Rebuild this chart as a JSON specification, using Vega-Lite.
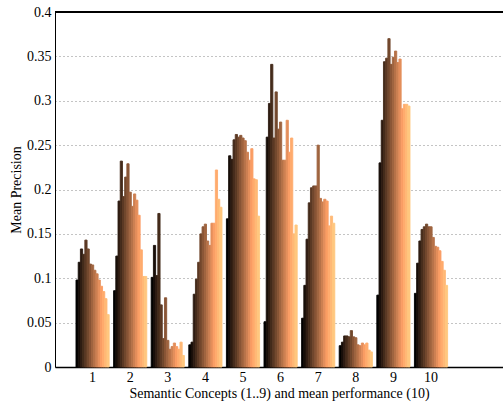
{
  "$schema": "https://vega.github.io/schema/vega-lite/v6.json",
  "width": 448,
  "height": 355,
  "autosize": {"type": "none"},
  "padding": {"left": 55, "top": 12, "right": 0, "bottom": 40},
  "config": {
    "view": {"stroke": null},
    "font": "Liberation Serif",
    "axis": {"labelFont": "Liberation Serif", "titleFont": "Liberation Serif", "labelColor": "#000", "titleColor": "#000", "titleFontWeight": "normal", "labelFontSize": 14, "titleFontSize": 14}
  },
  "data": {
    "values": [
      {"c":1,"s":1,"v":0.098},{"c":1,"s":2,"v":0.118},{"c":1,"s":3,"v":0.133},{"c":1,"s":4,"v":0.127},{"c":1,"s":5,"v":0.143},{"c":1,"s":6,"v":0.133},{"c":1,"s":7,"v":0.116},{"c":1,"s":8,"v":0.115},{"c":1,"s":9,"v":0.109},{"c":1,"s":10,"v":0.105},{"c":1,"s":11,"v":0.098},{"c":1,"s":12,"v":0.091},{"c":1,"s":13,"v":0.085},{"c":1,"s":14,"v":0.077},{"c":1,"s":15,"v":0.059},
      {"c":2,"s":1,"v":0.086},{"c":2,"s":2,"v":0.125},{"c":2,"s":3,"v":0.187},{"c":2,"s":4,"v":0.232},{"c":2,"s":5,"v":0.192},{"c":2,"s":6,"v":0.214},{"c":2,"s":7,"v":0.229},{"c":2,"s":8,"v":0.197},{"c":2,"s":9,"v":0.181},{"c":2,"s":10,"v":0.195},{"c":2,"s":11,"v":0.188},{"c":2,"s":12,"v":0.171},{"c":2,"s":13,"v":0.132},{"c":2,"s":14,"v":0.102},{"c":2,"s":15,"v":0.102},
      {"c":3,"s":1,"v":0.101},{"c":3,"s":2,"v":0.137},{"c":3,"s":3,"v":0.103},{"c":3,"s":4,"v":0.173},{"c":3,"s":5,"v":0.070},{"c":3,"s":6,"v":0.032},{"c":3,"s":7,"v":0.078},{"c":3,"s":8,"v":0.030},{"c":3,"s":9,"v":0.020},{"c":3,"s":10,"v":0.023},{"c":3,"s":11,"v":0.027},{"c":3,"s":12,"v":0.023},{"c":3,"s":13,"v":0.020},{"c":3,"s":14,"v":0.028},{"c":3,"s":15,"v":0.013},
      {"c":4,"s":1,"v":0.025},{"c":4,"s":2,"v":0.028},{"c":4,"s":3,"v":0.082},{"c":4,"s":4,"v":0.099},{"c":4,"s":5,"v":0.118},{"c":4,"s":6,"v":0.150},{"c":4,"s":7,"v":0.158},{"c":4,"s":8,"v":0.161},{"c":4,"s":9,"v":0.142},{"c":4,"s":10,"v":0.137},{"c":4,"s":11,"v":0.162},{"c":4,"s":12,"v":0.162},{"c":4,"s":13,"v":0.222},{"c":4,"s":14,"v":0.189},{"c":4,"s":15,"v":0.180},
      {"c":5,"s":1,"v":0.167},{"c":5,"s":2,"v":0.238},{"c":5,"s":3,"v":0.234},{"c":5,"s":4,"v":0.256},{"c":5,"s":5,"v":0.262},{"c":5,"s":6,"v":0.259},{"c":5,"s":7,"v":0.261},{"c":5,"s":8,"v":0.258},{"c":5,"s":9,"v":0.255},{"c":5,"s":10,"v":0.242},{"c":5,"s":11,"v":0.233},{"c":5,"s":12,"v":0.246},{"c":5,"s":13,"v":0.212},{"c":5,"s":14,"v":0.211},{"c":5,"s":15,"v":0.170},
      {"c":6,"s":1,"v":0.051},{"c":6,"s":2,"v":0.259},{"c":6,"s":3,"v":0.297},{"c":6,"s":4,"v":0.341},{"c":6,"s":5,"v":0.258},{"c":6,"s":6,"v":0.310},{"c":6,"s":7,"v":0.268},{"c":6,"s":8,"v":0.276},{"c":6,"s":9,"v":0.233},{"c":6,"s":10,"v":0.233},{"c":6,"s":11,"v":0.278},{"c":6,"s":12,"v":0.242},{"c":6,"s":13,"v":0.258},{"c":6,"s":14,"v":0.150},{"c":6,"s":15,"v":0.160},
      {"c":7,"s":1,"v":0.055},{"c":7,"s":2,"v":0.092},{"c":7,"s":3,"v":0.144},{"c":7,"s":4,"v":0.185},{"c":7,"s":5,"v":0.202},{"c":7,"s":6,"v":0.204},{"c":7,"s":7,"v":0.204},{"c":7,"s":8,"v":0.250},{"c":7,"s":9,"v":0.190},{"c":7,"s":10,"v":0.186},{"c":7,"s":11,"v":0.189},{"c":7,"s":12,"v":0.187},{"c":7,"s":13,"v":0.159},{"c":7,"s":14,"v":0.170},{"c":7,"s":15,"v":0.162},
      {"c":8,"s":1,"v":0.024},{"c":8,"s":2,"v":0.028},{"c":8,"s":3,"v":0.035},{"c":8,"s":4,"v":0.035},{"c":8,"s":5,"v":0.034},{"c":8,"s":6,"v":0.041},{"c":8,"s":7,"v":0.034},{"c":8,"s":8,"v":0.033},{"c":8,"s":9,"v":0.025},{"c":8,"s":10,"v":0.024},{"c":8,"s":11,"v":0.027},{"c":8,"s":12,"v":0.025},{"c":8,"s":13,"v":0.027},{"c":8,"s":14,"v":0.019},{"c":8,"s":15,"v":0.017},
      {"c":9,"s":1,"v":0.081},{"c":9,"s":2,"v":0.230},{"c":9,"s":3,"v":0.278},{"c":9,"s":4,"v":0.344},{"c":9,"s":5,"v":0.348},{"c":9,"s":6,"v":0.370},{"c":9,"s":7,"v":0.341},{"c":9,"s":8,"v":0.349},{"c":9,"s":9,"v":0.356},{"c":9,"s":10,"v":0.343},{"c":9,"s":11,"v":0.347},{"c":9,"s":12,"v":0.291},{"c":9,"s":13,"v":0.296},{"c":9,"s":14,"v":0.296},{"c":9,"s":15,"v":0.294},
      {"c":10,"s":1,"v":0.083},{"c":10,"s":2,"v":0.117},{"c":10,"s":3,"v":0.142},{"c":10,"s":4,"v":0.155},{"c":10,"s":5,"v":0.158},{"c":10,"s":6,"v":0.161},{"c":10,"s":7,"v":0.158},{"c":10,"s":8,"v":0.158},{"c":10,"s":9,"v":0.146},{"c":10,"s":10,"v":0.136},{"c":10,"s":11,"v":0.135},{"c":10,"s":12,"v":0.131},{"c":10,"s":13,"v":0.119},{"c":10,"s":14,"v":0.109},{"c":10,"s":15,"v":0.092}
    ]
  },
  "layer": [
    {
      "mark": {"type": "bar", "strokeWidth": 0.9},
      "encoding": {
        "x": {
          "field": "c", "type": "ordinal",
          "scale": {"paddingInner": 0, "paddingOuter": 0.957, "align": 0.261},
          "axis": {"title": "Semantic Concepts (1..9) and mean performance (10)", "labelAngle": 0, "ticks": false, "domainColor": "#000", "domainWidth": 1.5, "labelPadding": 3, "titlePadding": 2}
        },
        "xOffset": {"field": "s", "type": "ordinal", "scale": {"paddingInner": 0, "paddingOuter": 1.875}},
        "y": {
          "field": "v", "type": "quantitative",
          "scale": {"domain": [0, 0.4], "nice": false},
          "axis": {"title": "Mean Precision", "values": [0, 0.05, 0.1, 0.15, 0.2, 0.25, 0.3, 0.35, 0.4], "format": ".2~f", "grid": true, "gridDash": [1, 3], "gridColor": "#888", "gridWidth": 1, "domainColor": "#000", "domainWidth": 1, "ticks": false, "labelPadding": 4, "titlePadding": 3}
        },
        "color": {
          "field": "s", "type": "ordinal",
          "scale": {"range": ["#000000", "#170E09", "#2E1C12", "#442B1B", "#5B3924", "#72472D", "#895536", "#9F643F", "#B67248", "#CD8052", "#E48E5B", "#FA9D64", "#FFAB6D", "#FFB976", "#FFC77F"]},
          "legend": null
        },
        "stroke": {
          "field": "s", "type": "ordinal",
          "scale": {"range": ["#000000", "#170E09", "#2E1C12", "#442B1B", "#5B3924", "#72472D", "#895536", "#9F643F", "#B67248", "#CD8052", "#E48E5B", "#FA9D64", "#FFAB6D", "#FFB976", "#FFC77F"]},
          "legend": null
        }
      }
    },
    {
      "mark": {"type": "rule", "color": "#000", "strokeWidth": 1},
      "encoding": {"y": {"datum": 0.4}}
    }
  ]
}
